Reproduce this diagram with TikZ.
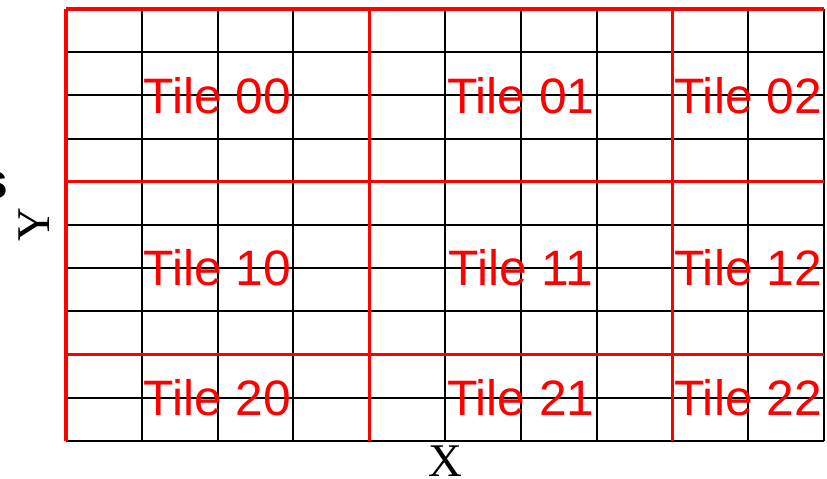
\documentclass[tikz,border=0pt]{standalone}
\usepackage{fontspec}
\newfontfamily\tilefont{Liberation Sans}
\newfontfamily\axisfont{Liberation Serif}
\usetikzlibrary{positioning}

\begin{document}
\begin{tikzpicture}[
  x=0.03cm, y=-0.03cm,
  gridline/.style={line width=1.6pt,black},
  tileline/.style={line width=2.6pt,red},
  tilelabel/.style={text=red,inner sep=0pt,font=\tilefont\fontsize{42.5}{42.5}\selectfont},
  axislabel/.style={inner sep=0pt,font=\axisfont\fontsize{40}{40}\selectfont},
]
  \useasboundingbox (0,0) rectangle (827,479);

  % Cells (10 x 10)
  \foreach \i in {0,...,10} {
    \draw[gridline] ({66+75.8*\i},9) -- ({66+75.8*\i},441);
    \draw[gridline] (66,{9+43.2*\i}) -- (824,{9+43.2*\i});
  }

  % Tile borders
  \foreach \i in {0,4,8} {
    \draw[tileline] ({66+75.8*\i},9) -- ({66+75.8*\i},441);
    \draw[tileline] (66,{9+43.2*\i}) -- (824,{9+43.2*\i});
  }

  % Tile labels
  \foreach \r/\y in {0/95.4,1/268.2,2/397.8}
    \foreach \c/\x in {0/217.6,1/520.8,2/748.2}
      \node[tilelabel] (tile\r\c) at (\x,\y) {Tile \r\c};

  % Axes
  \node[axislabel,anchor=north] (xlabel) at (445,446) {X};
  \node[axislabel,rotate=90] (ylabel) at (34.5,225) {Y};
  \node[inner sep=0pt,anchor=base east,font=\tilefont\bfseries\fontsize{42.5}{42.5}\selectfont]
    (cut) at (8,198) {s};
\end{tikzpicture}
\end{document}
